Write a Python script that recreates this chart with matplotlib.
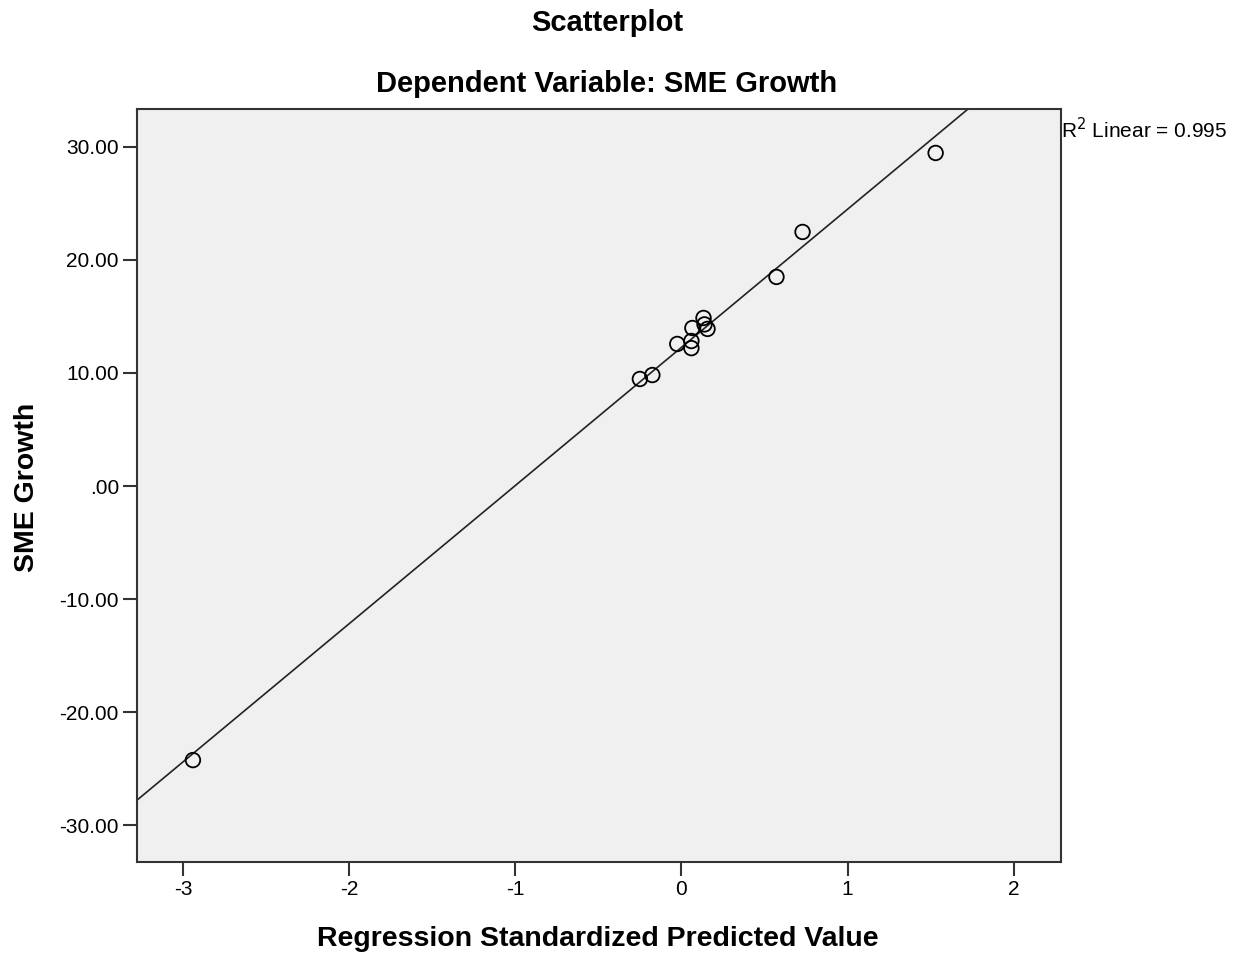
import numpy as np
import matplotlib.pyplot as plt

plt.rcParams['font.family'] = ['Liberation Sans', 'DejaVu Sans']

# data
pred_value = [-2.94, -0.25, -0.175, -0.025, 0.06, 0.06, 0.066, 0.133, 0.139, 0.157, 0.572, 0.729, 1.53]
sme_growth = [-24.25, 9.47, 9.82, 12.57, 12.83, 12.2, 13.98, 14.87, 14.3, 13.9, 18.5, 22.48, 29.47]
x_ticks = [-3, -2, -1, 0, 1, 2]
y_ticks = [30, 20, 10, 0, -10, -20, -30]
y_tick_labels = ["30.00", "20.00", "10.00", ".00", "-10.00", "-20.00", "-30.00"]
r2_text = "R$^2$ Linear = 0.995"

fig = plt.figure(figsize=(12.45, 9.56), dpi=100)
ax = fig.add_axes([0.110, 0.0983, 0.742, 0.7877])
ax.set_facecolor('#f0f0f0')

xlim = (-3.277, 2.283)
ylim = (-33.27, 33.36)

# fit line
slope, intercept = np.polyfit(pred_value, sme_growth, 1)
xs = np.array(xlim)
ax.plot(xs, slope * xs + intercept, color='#222222', linewidth=1.2, zorder=2)

ax.scatter(pred_value, sme_growth, s=110, facecolors='none', edgecolors='black',
           linewidths=1.3, zorder=3)

ax.set_xlim(*xlim)
ax.set_ylim(*ylim)
ax.set_xticks(x_ticks)
ax.set_xticklabels([str(t) for t in x_ticks])
ax.set_yticks(y_ticks)
ax.set_yticklabels(y_tick_labels)
ax.tick_params(axis='both', direction='out', length=10, width=1.5, color='#333333',
               labelsize=15, pad=3)

for sp in ax.spines.values():
    sp.set_color('#333333')
    sp.set_linewidth(1.5)

fig.text(0.4876, 0.976, "Scatterplot", ha='center', va='center', fontsize=21, fontweight='bold')
fig.text(0.4876, 0.912, "Dependent Variable: SME Growth", ha='center', va='center',
         fontsize=21, fontweight='bold')
fig.text(0.480, 0.018, "Regression Standardized Predicted Value", ha='center', va='center',
         fontsize=20.5, fontweight='bold')
fig.text(0.022, 0.49, "SME Growth", ha='center', va='center', rotation=90,
         fontsize=20.5, fontweight='bold')
fig.text(0.852, 0.864, r2_text, ha='left', va='center', fontsize=15)

fig.savefig("out.png", dpi=100)
